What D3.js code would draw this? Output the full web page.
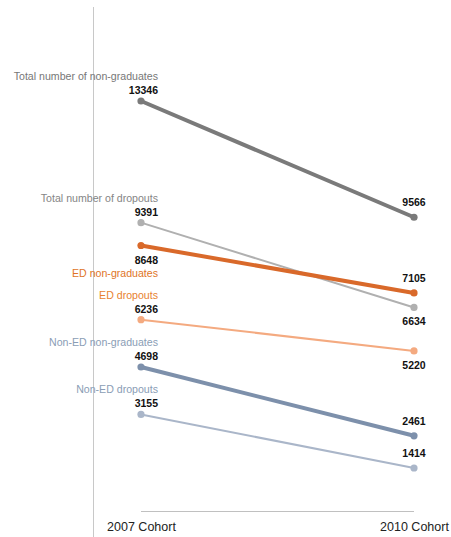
<!DOCTYPE html>
<html><head><meta charset="utf-8">
<script src="https://cdn.jsdelivr.net/npm/d3@7"></script>
<style>
body{margin:0;background:#fff;}
text{font-family:"Liberation Sans",Arial,Helvetica,sans-serif;}
</style>
</head><body>
<svg id="c" width="451" height="537"></svg>
<script>
const cohorts = ["2007 Cohort", "2010 Cohort"];
const seriesNames = ["Total number of non-graduates","Total number of dropouts","ED non-graduates","ED dropouts","Non-ED non-graduates","Non-ED dropouts"];
const values2007 = [13346, 9391, 8648, 6236, 4698, 3155];
const values2010 = [9566, 6634, 7105, 5220, 2461, 1414];
const lineColors = ["#7a7a7a","#b0b0b0","#d9692a","#f4aa80","#7d90ab","#aab6c9"];
const nameColors = ["#777777","#858585","#e07426","#e8822f","#8a9db5","#8a9db5"];
const lineWidths = [4, 2, 4, 2, 4, 2];
// label placement: above (-1) or below (+1) the point
const leftPos = [-1, -1, 1, -1, -1, -1];
const rightPos = [-1, 1, -1, 1, -1, -1];

const svg = d3.select("#c");
const x = d3.scalePoint().domain(cohorts).range([141, 414]);
const y = d3.scaleLinear().domain([0, 13346]).range([511.5, 101]);

svg.append("line").attr("x1",93.5).attr("x2",93.5).attr("y1",7).attr("y2",537)
  .attr("stroke","#c8c8c8").attr("stroke-width",1);

const xAxis = svg.append("g").attr("transform","translate(0,511.5)")
  .call(d3.axisBottom(x).tickSize(0).tickPadding(11));
xAxis.select(".domain").attr("stroke","#c0c0c0").attr("d", `M${x(cohorts[0])},0H${x(cohorts[1])}`);
xAxis.selectAll("text").attr("font-size","12.5px").attr("fill","#222")
  .attr("font-family","'Liberation Sans',Arial,sans-serif");

const data = seriesNames.map((n,i)=>({name:n, v:[values2007[i], values2010[i]], i}));

const g = svg.append("g");
const nameSize = "10.6px", numSize = "10.5px";
data.forEach(d=>{
  const line = d3.line().x((v,k)=>x(cohorts[k])).y(v=>y(v));
  g.append("path").attr("d", line(d.v)).attr("fill","none")
    .attr("stroke", lineColors[d.i]).attr("stroke-width", lineWidths[d.i]).attr("stroke-linecap","round");
  d.v.forEach((v,k)=>{
    g.append("circle").attr("cx", x(cohorts[k])).attr("cy", y(v)).attr("r", 3.6).attr("fill", lineColors[d.i]);
  });
  const lx = 158, ly = y(d.v[0]);
  const numY = leftPos[d.i] < 0 ? ly-7 : ly+18;
  const nameY = leftPos[d.i] < 0 ? ly-21 : ly+31;
  g.append("text").attr("x",lx).attr("y",numY).attr("text-anchor","end").attr("font-size",numSize)
    .attr("font-weight","bold").attr("fill","#111").text(d3.format("d")(d.v[0]));
  g.append("text").attr("x",lx).attr("y",nameY).attr("text-anchor","end").attr("font-size",nameSize)
    .attr("fill",nameColors[d.i]).text(d.name);
  const rx = x(cohorts[1]), ry = y(d.v[1]);
  g.append("text").attr("x",rx).attr("y", rightPos[d.i] < 0 ? ry-11 : ry+18)
    .attr("text-anchor","middle").attr("font-size",numSize).attr("font-weight","bold").attr("fill","#111")
    .text(d3.format("d")(d.v[1]));
});
</script>
</body></html>
